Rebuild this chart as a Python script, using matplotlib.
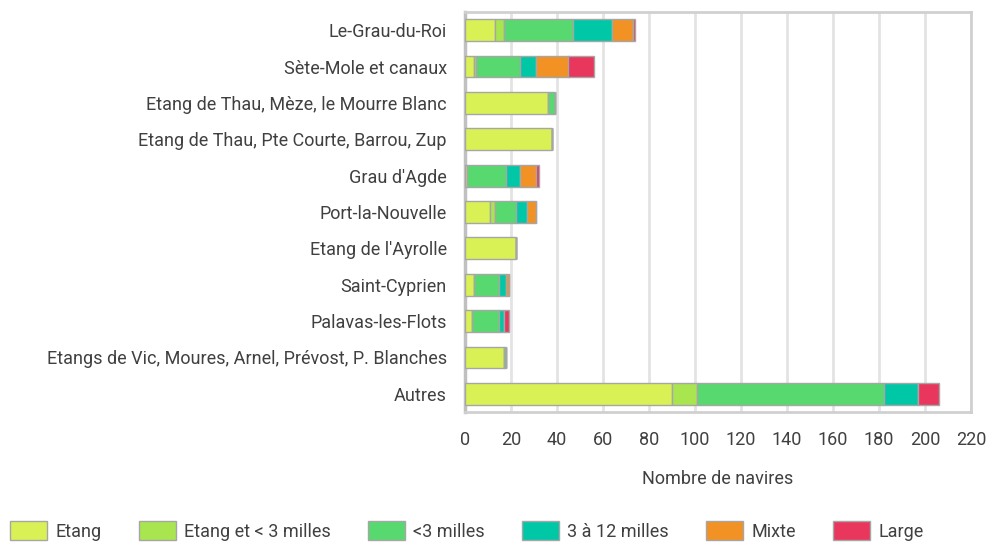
import matplotlib
matplotlib.use("Agg")
import matplotlib.pyplot as plt
import numpy as np

plt.rcParams['font.family'] = ['Roboto', 'DejaVu Sans']

categories = ["Le-Grau-du-Roi", "Sète-Mole et canaux", "Etang de Thau, Mèze, le Mourre Blanc",
              "Etang de Thau, Pte Courte, Barrou, Zup", "Grau d'Agde", "Port-la-Nouvelle",
              "Etang de l'Ayrolle", "Saint-Cyprien", "Palavas-les-Flots",
              "Etangs de Vic, Moures, Arnel, Prévost, P. Blanches", "Autres"]
series_names = ["Etang", "Etang et < 3 milles", "<3 milles", "3 à 12 milles", "Mixte", "Large"]
etang       = [13, 4, 36, 38, 1, 11, 22, 4, 3, 17, 90]
etang_3     = [4, 1, 0, 0, 0, 2, 0, 0, 0, 0, 11]
moins3      = [30, 19, 3, 0, 17, 9, 0, 11, 12, 1, 81]
de3a12      = [17, 7, 0, 0, 6, 5, 0, 3, 2, 0, 15]
mixte       = [9, 14, 0, 0, 7, 4, 0, 1, 0, 0, 0]
large       = [1, 11, 0, 0, 1, 0, 0, 0, 2, 0, 9]
xticks = list(range(0, 221, 20))
colors = ["#d9f154", "#a8e54f", "#57d96f", "#00c8a6", "#f39224", "#e8365c"]

series = [etang, etang_3, moins3, de3a12, mixte, large]

fig = plt.figure(figsize=(9.87, 5.42), dpi=100)
ax = fig.add_axes([465/987, 1-412/542, (971-465)/987, 400/542])
y = np.arange(len(categories))
left = np.zeros(len(categories))
handles = []
for vals, c, name in zip(series, colors, series_names):
    v = np.array(vals, dtype=float)
    b = ax.barh(y, v, left=left, height=0.6, color=c, edgecolor="#a6a6a6", linewidth=1, label=name, zorder=3)
    handles.append(b)
    left += v

ax.set_ylim(len(categories)-0.5, -0.5)
ax.set_xlim(0, 220)
ax.set_xticks(xticks)
ax.set_yticks(y)
ax.set_yticklabels(categories)
ax.tick_params(axis='both', length=0, labelsize=13, colors="#404040")
ax.tick_params(axis='x', pad=14)
ax.tick_params(axis='y', pad=13)
ax.grid(axis='x', color="#e3e3e3", linewidth=2, zorder=0)
for s in ['top', 'right', 'bottom']:
    ax.spines[s].set_color("#d0d0d0")
    ax.spines[s].set_linewidth(2)
ax.spines['left'].set_color("#c0c0c0")
ax.spines['left'].set_linewidth(2.5)
ax.set_xlabel("Nombre de navires", fontsize=13, color="#404040", labelpad=15)

fig.legend(handles=handles, labels=series_names, loc='lower left', bbox_to_anchor=(10/987, 1/542),
           ncol=6, frameon=False, fontsize=13, handlelength=2.05, handleheight=1.25,
           columnspacing=2.07, handletextpad=0.45, borderpad=0, borderaxespad=0, labelcolor="#404040")

fig.savefig("out.png", dpi=100)
